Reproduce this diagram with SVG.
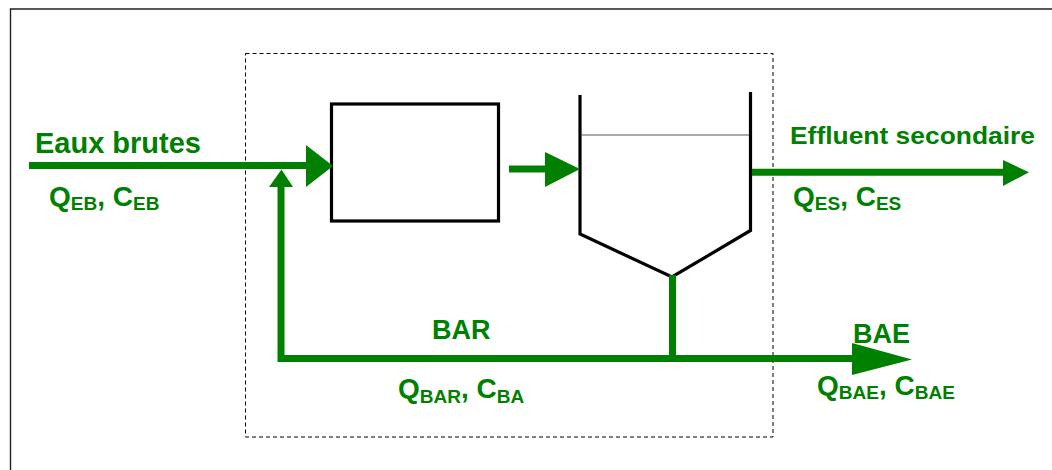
<svg xmlns="http://www.w3.org/2000/svg" width="1052" height="470" viewBox="0 0 1052 470">
  <style>
    .lbl { font-family: "Liberation Sans", Arial, sans-serif; font-weight: bold; fill: #008000; font-size: 28px; }
    .sub { font-size: 19px; }
    .flow { stroke: #008000; stroke-width: 7; fill: none; }
    .head { fill: #008000; stroke: none; }
    .unit { stroke: #000; stroke-width: 3.2; fill: none; }
  </style>
  <rect width="1052" height="470" fill="#fff"/>
  <g id="frame">
    <path d="M10.5 470 V9 H1052" fill="none" stroke="#222" stroke-width="1.4"/>
  </g>
  <g id="boundary">
    <rect x="245.5" y="53.5" width="527.5" height="383.5" fill="none" stroke="#000" stroke-width="1" stroke-dasharray="4 3"/>
  </g>
  <g id="reactor">
    <rect x="331.5" y="104" width="167" height="117" fill="#fff" class="unit"/>
  </g>
  <g id="clarifier">
    <polyline class="unit" points="580,95 580,234 672,277 750.5,230.5 750.5,92"/>
    <line x1="581" y1="135" x2="749" y2="135" stroke="#555" stroke-width="1.2"/>
  </g>
  <g id="connectors">
    <line class="flow" x1="29" y1="165.5" x2="307" y2="165.5"/>
    <polygon class="head" points="306,145 306,187 333,166"/>
    <line class="flow" x1="509" y1="169" x2="547" y2="169"/>
    <polygon class="head" points="545,152 545,187 580,169"/>
    <line class="flow" x1="752" y1="172.3" x2="1004" y2="172.3"/>
    <polygon class="head" points="1003,160 1003,186 1029,172.3"/>
    <line class="flow" x1="672.5" y1="275" x2="672.5" y2="359"/>
    <polyline class="flow" points="281,187 281,358.5 853,358.5"/>
    <polygon class="head" points="269,187 293,187 281.5,169.5"/>
    <polygon class="head" points="852,343 852,375 912,359.5"/>
  </g>
  <g id="labels">
    <text class="lbl" x="35" y="153" style="font-size:29px">Eaux brutes</text>
    <text class="lbl" x="49" y="206">Q<tspan class="sub" dy="4">EB</tspan><tspan dy="-4">, C</tspan><tspan class="sub" dy="4">EB</tspan></text>
    <text class="lbl" x="790" y="144" style="font-size:24px" textLength="245" lengthAdjust="spacingAndGlyphs">Effluent secondaire</text>
    <text class="lbl" x="793" y="206">Q<tspan class="sub" dy="4">ES</tspan><tspan dy="-4">, C</tspan><tspan class="sub" dy="4">ES</tspan></text>
    <text class="lbl" x="432" y="339" style="font-size:27px">BAR</text>
    <text class="lbl" x="398" y="398">Q<tspan class="sub" dy="5">BAR</tspan><tspan dy="-5">, C</tspan><tspan class="sub" dy="5">BA</tspan></text>
    <text class="lbl" x="853" y="343" style="font-size:27px">BAE</text>
    <text class="lbl" x="817" y="395">Q<tspan class="sub" dy="4">BAE</tspan><tspan dy="-4">, C</tspan><tspan class="sub" dy="4">BAE</tspan></text>
  </g>
</svg>
